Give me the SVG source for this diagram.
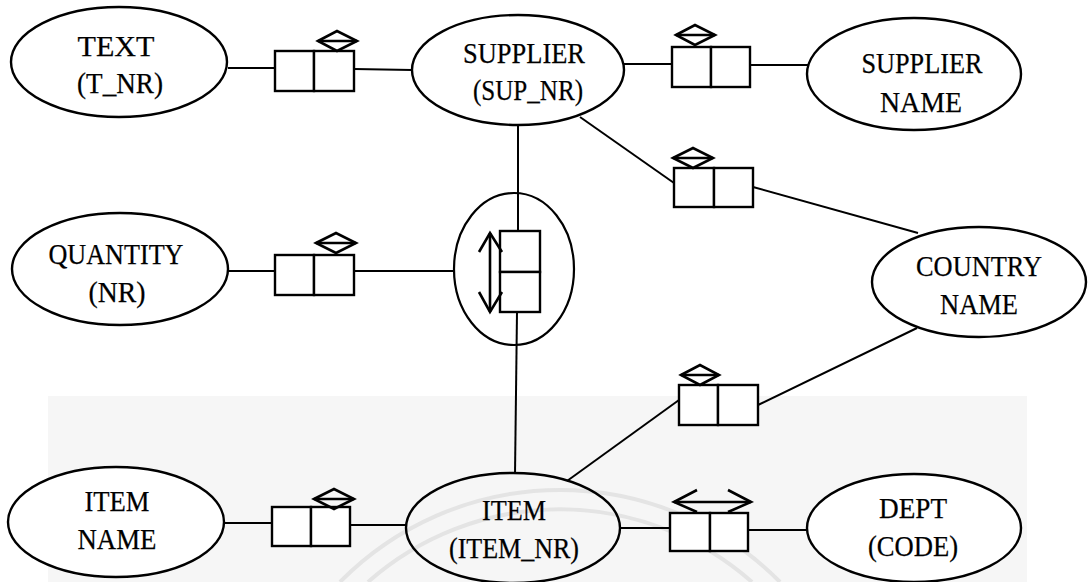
<svg xmlns="http://www.w3.org/2000/svg" width="1091" height="582" viewBox="0 0 1091 582">
<defs>
<style>
.bg{fill:#ffffff}
.scan{fill:#f6f6f6}
.wm{fill:none;stroke:#e4e4e4;stroke-width:4}
.ent{fill:#ffffff;stroke:#000;stroke-width:2.4}
.ent2{fill:none;stroke:#000;stroke-width:2.4}
.obj{fill:none;stroke:#000;stroke-width:2.2}
.box{fill:#ffffff;stroke:#000;stroke-width:2.4}
.ln{fill:none;stroke:#000;stroke-width:2}
.uq{fill:none;stroke:#000;stroke-width:2.6;stroke-linejoin:miter}
text{font-family:"Liberation Serif","Times New Roman",serif;font-size:30px;fill:#000;stroke:#000;stroke-width:0.25;text-anchor:middle}
</style>
</defs>
<rect class="bg" x="0" y="0" width="1091" height="582"/>
<rect class="scan" x="48" y="396" width="979" height="186"/>
<g id="watermark">
<path class="wm" d="M 340 582 A 309 309 0 0 1 780 582"/>
<path class="wm" d="M 368 582 A 290 290 0 0 1 752 582"/>
</g>

<g id="connectors">
<line class="ln" x1="228" y1="68" x2="275" y2="68"/>
<line class="ln" x1="354" y1="69" x2="412" y2="70"/>
<line class="ln" x1="624" y1="64" x2="672" y2="64"/>
<line class="ln" x1="750" y1="65" x2="808" y2="65"/>
<line class="ln" x1="580" y1="117" x2="674" y2="183"/>
<line class="ln" x1="753" y1="187" x2="918" y2="233"/>
<line class="ln" x1="917" y1="328" x2="758" y2="405"/>
<line class="ln" x1="679" y1="400" x2="567" y2="481"/>
<line class="ln" x1="518" y1="125" x2="518" y2="231"/>
<line class="ln" x1="517" y1="312" x2="515" y2="474"/>
<line class="ln" x1="228" y1="271" x2="275" y2="271"/>
<line class="ln" x1="354" y1="271" x2="455" y2="271"/>
<line class="ln" x1="224" y1="523" x2="272" y2="523"/>
<line class="ln" x1="350" y1="525" x2="407" y2="525"/>
<line class="ln" x1="620" y1="528" x2="670" y2="528"/>
<line class="ln" x1="748" y1="530" x2="807" y2="530"/>
</g>

<g id="fact-text-supplier">
<rect class="box" x="275" y="51" width="39" height="40"/>
<rect class="box" x="314" y="51" width="40" height="40"/>
<polygon class="uq" points="318,41 337,31 357,41 337,51"/>
<line class="uq" x1="318" y1="41" x2="357" y2="41"/>
</g>
<g id="fact-supplier-name">
<rect class="box" x="672" y="47" width="39" height="40"/>
<rect class="box" x="711" y="47" width="39" height="40"/>
<polygon class="uq" points="676,35 695,25 715,35 695,45"/>
<line class="uq" x1="676" y1="35" x2="715" y2="35"/>
</g>
<g id="fact-supplier-country">
<rect class="box" x="674" y="168" width="40" height="39"/>
<rect class="box" x="714" y="168" width="39" height="39"/>
<polygon class="uq" points="673,158 693,148 713,158 693,168"/>
<line class="uq" x1="673" y1="158" x2="713" y2="158"/>
</g>
<g id="fact-quantity">
<rect class="box" x="275" y="255" width="39" height="40"/>
<rect class="box" x="314" y="255" width="40" height="40"/>
<polygon class="uq" points="316,243 336,233 356,243 336,253"/>
<line class="uq" x1="316" y1="243" x2="356" y2="243"/>
</g>
<g id="fact-item-country">
<rect class="box" x="679" y="385" width="39" height="40"/>
<rect class="box" x="718" y="385" width="40" height="40"/>
<polygon class="uq" points="681,375 700,365 719,375 700,385"/>
<line class="uq" x1="681" y1="375" x2="719" y2="375"/>
</g>
<g id="fact-item-name">
<rect class="box" x="272" y="507" width="39" height="39"/>
<rect class="box" x="311" y="507" width="39" height="39"/>
<polygon class="uq" points="314,499 334,489 354,499 334,509"/>
<line class="uq" x1="314" y1="499" x2="354" y2="499"/>
</g>
<g id="fact-item-dept">
<rect class="box" x="670" y="513" width="40" height="38"/>
<rect class="box" x="710" y="513" width="38" height="38"/>
<line class="uq" x1="674" y1="502" x2="751" y2="502"/>
<polyline class="uq" points="697,490 674,502 697,512"/>
<polyline class="uq" points="728,490 751,502 728,512"/>
</g>

<g id="objectified-supplies">
<ellipse class="obj" cx="514" cy="269" rx="60" ry="76"/>
<rect class="box" x="500" y="231" width="40" height="41"/>
<rect class="box" x="500" y="272" width="40" height="40"/>
<line class="uq" x1="490" y1="233" x2="490" y2="312"/>
<polyline class="uq" points="479,252 490,233 502,252"/>
<polyline class="uq" points="479,292 490,312 502,292"/>
</g>

<g id="text-entity">
<ellipse class="ent" cx="119" cy="62" rx="108" ry="55"/>
<text x="116" y="56" textLength="77" lengthAdjust="spacingAndGlyphs">TEXT</text>
<text x="120" y="93" textLength="86" lengthAdjust="spacingAndGlyphs">(T_NR)</text>
</g>
<g id="supplier">
<ellipse class="ent" cx="518" cy="70" rx="106" ry="55"/>
<text x="524" y="63" textLength="122" lengthAdjust="spacingAndGlyphs">SUPPLIER</text>
<text x="528" y="100" textLength="110" lengthAdjust="spacingAndGlyphs">(SUP_NR)</text>
</g>
<g id="supplier-name">
<ellipse class="ent" cx="914" cy="74" rx="107" ry="56"/>
<text x="922" y="73" textLength="121" lengthAdjust="spacingAndGlyphs">SUPPLIER</text>
<text x="921" y="112" textLength="82" lengthAdjust="spacingAndGlyphs">NAME</text>
</g>
<g id="quantity">
<ellipse class="ent" cx="120" cy="269" rx="108" ry="56"/>
<text x="116" y="264" textLength="135" lengthAdjust="spacingAndGlyphs">QUANTITY</text>
<text x="117" y="302" textLength="57" lengthAdjust="spacingAndGlyphs">(NR)</text>
</g>
<g id="country-name">
<ellipse class="ent" cx="979" cy="282" rx="107" ry="55"/>
<text x="979" y="276" textLength="126" lengthAdjust="spacingAndGlyphs">COUNTRY</text>
<text x="979" y="314" textLength="78" lengthAdjust="spacingAndGlyphs">NAME</text>
</g>
<g id="item-name">
<ellipse class="ent" cx="116" cy="522" rx="108" ry="55"/>
<text x="117" y="511" textLength="65" lengthAdjust="spacingAndGlyphs">ITEM</text>
<text x="117" y="549" textLength="79" lengthAdjust="spacingAndGlyphs">NAME</text>
</g>
<g id="item">
<ellipse class="ent2" cx="513" cy="528" rx="107" ry="55"/>
<text x="514" y="520" textLength="64" lengthAdjust="spacingAndGlyphs">ITEM</text>
<text x="514" y="558" textLength="130" lengthAdjust="spacingAndGlyphs">(ITEM_NR)</text>
</g>
<g id="dept">
<ellipse class="ent" cx="914" cy="528" rx="107" ry="54"/>
<text x="913" y="518" textLength="68" lengthAdjust="spacingAndGlyphs">DEPT</text>
<text x="913" y="556" textLength="90" lengthAdjust="spacingAndGlyphs">(CODE)</text>
</g>
</svg>
